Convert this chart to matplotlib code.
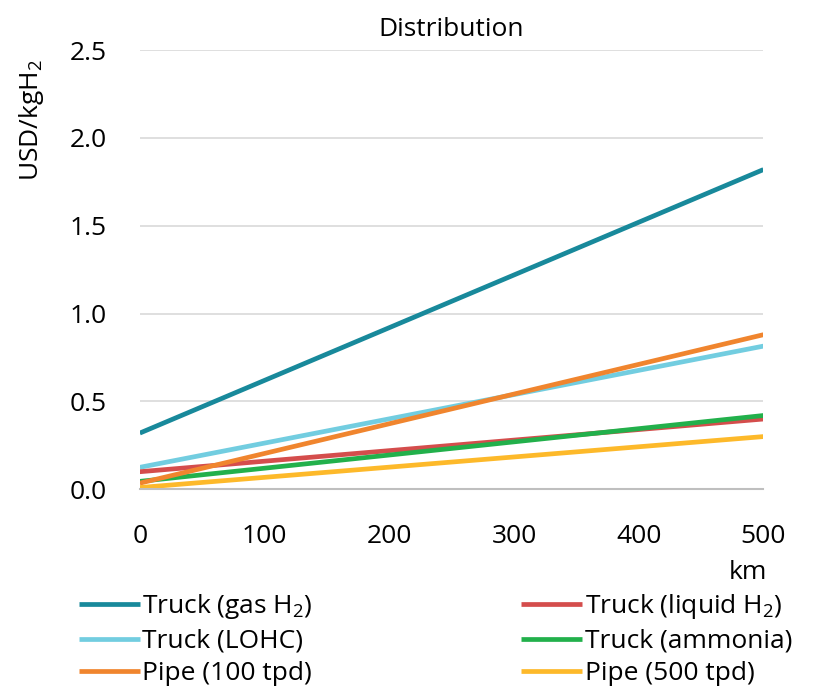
import numpy as np
import matplotlib.pyplot as plt

plt.rcParams['font.family'] = ['Open Sans', 'DejaVu Sans']
plt.rcParams['mathtext.fontset'] = 'custom'
plt.rcParams['mathtext.rm'] = 'Open Sans'

# distance (km)
distance = [0, 500]

# cost at 0 km and 500 km (USD/kgH2)
truck_gas = [0.32, 1.82]
truck_lohc = [0.125, 0.815]
truck_liquid = [0.10, 0.40]
truck_ammonia = [0.045, 0.42]
pipe_100 = [0.035, 0.88]
pipe_500 = [0.01, 0.30]

series = [
    ('Truck (gas H$\\mathregular{_2}$)', truck_gas, '#18899b'),
    ('Truck (LOHC)', truck_lohc, '#72cde0'),
    ('Truck (liquid H$\\mathregular{_2}$)', truck_liquid, '#d44d4c'),
    ('Truck (ammonia)', truck_ammonia, '#22b04b'),
    ('Pipe (100 tpd)', pipe_100, '#f0852e'),
    ('Pipe (500 tpd)', pipe_500, '#fdb92a'),
]

fs = 19

fig = plt.figure(figsize=(8.13, 6.96), dpi=100)
ax = fig.add_axes([0.172, 0.297, 0.767, 0.631])

lines = {}
for label, vals, color in series:
    ln, = ax.plot(distance, vals, color=color, lw=3.4, label=label,
                  solid_capstyle='butt')
    lines[label] = ln

ax.set_xlim(0, 500)
ax.set_ylim(0, 2.5)
ax.set_xticks(np.arange(0, 501, 100))
ax.set_yticks(np.arange(0, 2.51, 0.5))
ax.set_yticklabels([f'{v:.1f}' for v in np.arange(0, 2.51, 0.5)])
ax.tick_params(labelsize=fs, length=0)
ax.tick_params(axis='x', pad=25)
ax.tick_params(axis='y', pad=24)
ax.grid(axis='y', color='#d9d9d9', lw=1.2)
ax.set_axisbelow(True)
for s in ['top', 'right', 'left']:
    ax.spines[s].set_visible(False)
ax.spines['bottom'].set_color('#bfbfbf')
ax.spines['bottom'].set_linewidth(1.5)

ax.set_title('Distribution', fontsize=fs, pad=10)
ax.set_ylabel('USD/kgH$\\mathregular{_2}$', fontsize=fs)
ax.yaxis.set_label_coords(-0.15, 0.84)
fig.text(0.92, 0.178, 'km', fontsize=fs, ha='center', va='center')

order = [series[0][0], series[1][0], series[4][0],
         series[2][0], series[3][0], series[5][0]]
fig.legend([lines[k] for k in order], order, loc='upper left',
           bbox_to_anchor=(0.084, 0.164), ncol=2, frameon=False,
           fontsize=fs, handlelength=2.3, handletextpad=0.1,
           columnspacing=7.9, labelspacing=0.28, borderaxespad=0)

fig.savefig('out.png', dpi=100)
